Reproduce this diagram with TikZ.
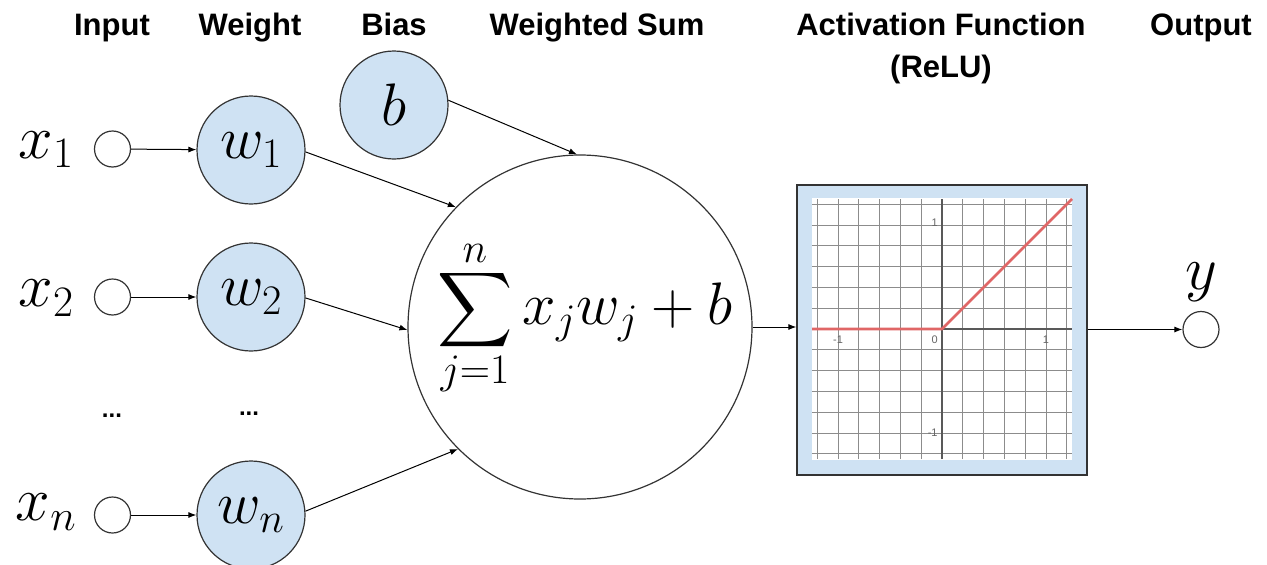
\RequirePackage{fix-cm}
\documentclass[tikz,border=0pt]{standalone}
\usepackage{amsmath}
\usepackage{exscale}
\usepackage{graphicx}
\usepackage{fontspec}
\newfontfamily\hdrfont{Liberation Sans}
\usetikzlibrary{arrows.meta}
\definecolor{bluefill}{HTML}{CFE2F3}
\definecolor{relured}{HTML}{E06666}
\definecolor{edge}{HTML}{333333}
\newcommand{\bigsigma}{\mathop{\vcenter{\hbox{\scalebox{2.1}{$\displaystyle\sum$}}}}\limits}
\begin{document}
\begin{tikzpicture}[x=1pt,y=-1pt,
  hdr/.style={font=\hdrfont\bfseries\fontsize{31}{36}\selectfont, anchor=base, inner sep=0},
  inp/.style={circle, draw=edge, line width=1.2pt, minimum size=36pt, inner sep=0},
  wt/.style={circle, draw=edge, fill=bluefill, line width=1.2pt, minimum size=108pt, inner sep=0, font=\fontsize{60}{60}\selectfont},
  big/.style={font=\fontsize{62}{62}\selectfont, inner sep=0},
  dotsty/.style={font=\hdrfont\bfseries\fontsize{24}{24}\selectfont, inner sep=0},
  conn/.style={-{Latex[length=8pt,width=6pt]}, line width=1pt},
  tick/.style={font=\hdrfont\fontsize{11}{11}\selectfont, text=black!60, inner sep=1pt}
]
\useasboundingbox (0,0) rectangle (1267,565);
% headers
\node[hdr] (hInput) at (112,35) {Input};
\node[hdr] (hWeight) at (250,35) {Weight};
\node[hdr] (hBias) at (394,35) {Bias};
\node[hdr] (hSum) at (597,35) {Weighted Sum};
\node[hdr] (hAct) at (941,35) {Activation Function};
\node[hdr] (hRelu) at (941,77) {(ReLU)};
\node[hdr] (hOut) at (1201,35) {Output};
% inputs
\node[inp] (x1) at (112.5,149) {};
\node[inp] (x2) at (112.5,297) {};
\node[inp] (xn) at (112.5,515) {};
\node[big] (lx1) at (46,150) {$x_1$};
\node[big] (lx2) at (46,298) {$x_2$};
\node[big] (lxn) at (46,512) {$x_n$};
\node[dotsty] (d1) at (112,416) {...};
\node[dotsty] (d2) at (249,414) {...};
% weights
\node[wt] (w1) at (251,150) {$w_1$};
\node[wt] (w2) at (251,297) {$w_2$};
\node[wt] (wn) at (251,515) {$w_n$};
\node[wt] (b) at (394,105) {$b$};
% sum
\node[circle, draw=edge, line width=1.2pt, minimum size=344pt, inner sep=0] (S) at (580,327) {};
\node[font=\fontsize{60}{60}\selectfont, inner sep=0] (sumtxt) at (585,318) {$\displaystyle\bigsigma_{j=1}^{n} x_j w_j + b$};
% activation box
\node[draw=edge, fill=bluefill, line width=1.2pt, minimum width=290pt, minimum height=290pt, inner sep=0] (A) at (942,330) {};
\fill[white] (812,198) rectangle (1072,460);
\begin{scope}[shift={(942,329)}, x=104pt, y=104pt]
  \draw[black!45, line width=1pt] (-1.25,-1.25) grid[step=0.2] (1.25,1.25);
  \draw[black!65, line width=1.2pt] (-1.25,0) -- (1.25,0) (0,-1.25) -- (0,1.25);
  \node[tick] at (-1,-0.1) {-1};
  \node[tick] at (-0.07,-0.1) {0};
  \node[tick] at (1,-0.1) {1};
  \node[tick] at (-0.07,1.02) {1};
  \node[tick] at (-0.09,-1.0) {-1};
  \draw[relured, line width=2.6pt] (-1.25,0) -- (0,0) -- (1.25,1.25);
\end{scope}
% output
\node[inp] (Y) at (1201,329.5) {};
\node[big] (ly) at (1201,282) {$y$};
% connectors
\draw[conn] (x1) -- (w1);
\draw[conn] (x2) -- (w2);
\draw[conn] (xn) -- (wn);
\draw[conn] (w1.-2) -- (S.136);
\draw[conn] (w2.-1) -- (S.181);
\draw[conn] (wn.4) -- (S.225);
\draw[conn] (b.5) -- (S.91);
\draw[conn] (S.east) -- (S.east -| A.west);
\draw[conn] (A.east |- Y.west) -- (Y.west);
\end{tikzpicture}
\end{document}
